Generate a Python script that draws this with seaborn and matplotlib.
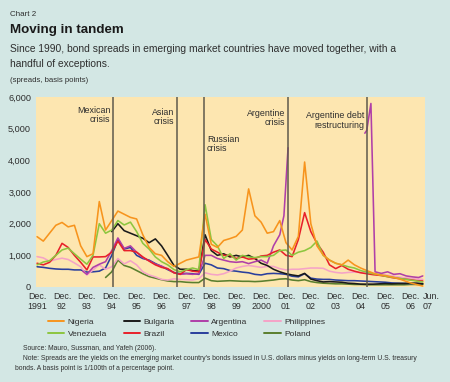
import matplotlib
matplotlib.use("Agg")
import matplotlib.pyplot as plt
import matplotlib.dates as mdates
from matplotlib.lines import Line2D
import numpy as np
import pandas as pd
import seaborn as sns

# ------------------------------------------------------------------
# Data (spreads, basis points), quarterly readings Dec 1991 - Jun 2007
# ------------------------------------------------------------------
quarters = pd.date_range("1991-12-01", "2007-06-01", freq="3MS")
nan = np.nan

nigeria = [1590, 1450, 1700, 1950, 2040, 1900, 1950, 1300,
           960, 1050, 2700, 1800, 2100, 2400, 2300, 2200,
           2150, 1650, 1250, 1050, 1000, 800, 650, 750,
           850, 900, 950, 2300, 1350, 1250, 1470, 1530,
           1600, 1800, 3100, 2250, 2050, 1700, 1750, 2100,
           1400, 1170, 1600, 3950, 2000, 1300, 1010, 850,
           750, 700, 850, 700, 600, 520, 440, 380,
           360, 320, 270, 200, 130, 80, 30]
venezuela = [700, 790, 830, 1000, 1170, 1230, 1050, 880,
             720, 1000, 2000, 1700, 1800, 2100, 1960, 2050,
             1750, 1380, 1200, 950, 800, 700, 550, 480,
             550, 600, 550, 2600, 1500, 1300, 900, 1050,
             850, 1000, 950, 930, 960, 960, 1000, 1150,
             1170, 1000, 1100, 1150, 1250, 1450, 1000, 850,
             750, 700, 640, 600, 520, 470, 420, 390,
             340, 310, 280, 250, 220, 190, 160]
bulgaria = [nan] * 12 + [
            1750, 2000, 1780, 1700, 1620, 1540, 1400, 1520,
            1300, 1000, 680, 560, 560, 520, 500, 1650,
            1150, 1000, 1050, 950, 1000, 950, 1000, 900,
            750, 680, 560, 480, 420, 380, 350, 430,
            250, 200, 160, 170, 160, 150, 120, 110,
            90, 90, 90, 100, 110, 100, 110, 110,
            120, 120, 100]
brazil = [750, 700, 780, 1000, 1380, 1250, 1000, 780,
          540, 950, 950, 960, 1100, 1450, 1150, 1150,
          1100, 950, 820, 700, 620, 580, 450, 400,
          550, 500, 480, 1500, 1200, 1100, 1000, 1000,
          900, 950, 880, 900, 980, 1000, 1100, 1170,
          1000, 960, 1500, 2350, 1750, 1380, 1100, 700,
          580, 680, 560, 500, 450, 420, 390, 370,
          340, 300, 270, 250, 230, 200, 190]
mexico = [640, 620, 590, 570, 560, 560, 540, 540,
          470, 480, 500, 600, 1000, 1500, 1200, 1250,
          1000, 900, 850, 740, 650, 550, 460, 420,
          430, 420, 400, 750, 700, 600, 580, 520,
          500, 470, 450, 400, 380, 420, 430, 420,
          400, 340, 320, 420, 280, 250, 240, 240,
          220, 210, 200, 200, 190, 180, 170, 160,
          150, 130, 120, 115, 110, 110, 110]
philippines = [960, 920, 810, 870, 910, 870, 760, 640,
               380, 540, 700, 560, 640, 900, 730, 830,
               700, 480, 380, 320, 240, 220, 260, 240,
               230, 220, 260, 450, 400, 380, 420, 500,
               600, 650, 680, 650, 620, 650, 650, 580,
               540, 560, 560, 580, 600, 600, 590, 500,
               460, 440, 460, 470, 460, 440, 420, 400,
               380, 350, 320, 290, 270, 250, 240]
poland = [nan] * 11 + [
          300, 480, 850, 680, 620, 520, 420, 330,
          280, 230, 190, 170, 170, 150, 140, 140,
          280, 200, 180, 190, 200, 190, 180, 180,
          170, 180, 200, 220, 250, 260, 220, 200,
          230, 170, 140, 120, 110, 100, 100, 90,
          80, 80, 70, 70, 70, 70, 70, 70,
          70, 80, 80, 80]

# Argentina: own dates, default gap 2002-2005
argentina_dates = ["1993-10", "1993-12", "1994-03", "1994-06", "1994-09", "1994-12",
                   "1995-03", "1995-06", "1995-09", "1995-12", "1996-03", "1996-06",
                   "1996-09", "1996-12", "1997-03", "1997-06", "1997-09", "1997-12",
                   "1998-03", "1998-06", "1998-09", "1998-12", "1999-03", "1999-06",
                   "1999-09", "1999-12", "2000-03", "2000-06", "2000-09", "2000-12",
                   "2001-03", "2001-06", "2001-09", "2001-11", "2002-01",
                   "2005-02", "2005-03", "2005-05", "2005-07", "2005-10", "2006-01",
                   "2006-04", "2006-07", "2006-10", "2007-01", "2007-04", "2007-06"]
argentina = [500, 400, 620, 720, 800, 1150,
             1550, 1220, 1300, 1100, 930, 830,
             720, 660, 570, 450, 400, 420,
             400, 420, 1000, 1000, 900, 850,
             800, 780, 800, 740, 800, 850,
             750, 1300, 1650, 2250, 4400,
             4860, 4950, 5800, 480, 430, 480,
             400, 420, 350, 320, 300, 350]
argentina_part = [1] * 35 + [2] * 12

countries = ["Nigeria", "Venezuela", "Bulgaria", "Brazil",
             "Argentina", "Mexico", "Philippines", "Poland"]
colors = {"Nigeria": "#f7941d", "Venezuela": "#8dc63f", "Bulgaria": "#1a1a1a",
          "Brazil": "#e8202a", "Argentina": "#b03fa8", "Mexico": "#2a3f9d",
          "Philippines": "#f5a3c7", "Poland": "#5a7f2e"}

events = [("1994-12-20", "Mexican\ncrisis", "right", 0.955),
          ("1997-07-20", "Asian\ncrisis", "right", 0.945),
          ("1998-08-17", "Russian\ncrisis", "left", 0.80),
          ("2001-12-28", "Argentine\ncrisis", "right", 0.94),
          ("2005-03-01", "Argentine debt\nrestructuring", "right", 0.925)]

# ------------------------------------------------------------------
# Long-form table
# ------------------------------------------------------------------
frames = []
for name, vals in [("Nigeria", nigeria), ("Venezuela", venezuela),
                   ("Bulgaria", bulgaria), ("Brazil", brazil),
                   ("Mexico", mexico), ("Philippines", philippines),
                   ("Poland", poland)]:
    frames.append(pd.DataFrame({"date": quarters, "spread": vals,
                                "country": name, "seg": name}))
frames.append(pd.DataFrame({"date": pd.to_datetime(argentina_dates), "spread": argentina,
                            "country": "Argentina",
                            "seg": ["Argentina%d" % p for p in argentina_part]}))
df = pd.concat(frames, ignore_index=True).dropna()

# ------------------------------------------------------------------
# Plot
# ------------------------------------------------------------------
sns.set_style("white")
plt.rcParams["font.family"] = ["Liberation Sans", "DejaVu Sans"]

bg = "#d3e7e4"
panel = "#fde6b0"
txt = "#2e2e2e"
fig = plt.figure(figsize=(4.5, 3.82), dpi=100, facecolor=bg)
ax = fig.add_axes([0.08, 0.2487, 0.864, 0.497])
ax.set_facecolor(panel)

draw_order = ["Poland", "Mexico", "Philippines", "Bulgaria", "Argentina",
              "Brazil", "Venezuela", "Nigeria"]
for c in draw_order:
    sub = df[df["country"] == c]
    sns.lineplot(data=sub, x="date", y="spread", units="seg", estimator=None,
                 color=colors[c], linewidth=1.15, sort=False, ax=ax, legend=False)

for d, label, side, yf in events:
    xd = mdates.date2num(pd.Timestamp(d))
    ax.axvline(xd, color="#5e5a4c", linewidth=1.1, zorder=5)
    off = -2 if side == "right" else 2
    ax.annotate(label, xy=(xd, yf), xycoords=ax.get_xaxis_transform(),
                xytext=(off, 0), textcoords="offset points",
                ha=side, va="top", fontsize=6.4, color=txt,
                linespacing=1.05, zorder=6)

ax.set_xlim(pd.Timestamp("1991-11-15"), pd.Timestamp("2007-07-01"))
ax.set_ylim(0, 6000)
for s in ax.spines.values():
    s.set_visible(False)

ax.set_yticks(range(0, 6001, 1000))
ax.set_yticklabels(["{:,}".format(v) for v in range(0, 6001, 1000)])
ax.tick_params(axis="y", direction="out", length=2, width=0.6, pad=1.5,
               labelsize=6.6, colors=txt)

xt = [pd.Timestamp("%d-12-01" % y) for y in range(1991, 2007)] + [pd.Timestamp("2007-06-01")]
xl = ["Dec.\n1991"] + ["Dec.\n%s" % s for s in
                       ["92", "93", "94", "95", "96", "97", "98", "99", "2000",
                        "01", "02", "03", "04", "05", "06"]] + ["Jun.\n07"]
ax.set_xticks(xt)
ax.set_xticklabels(xl, linespacing=1.2)
ax.xaxis.set_minor_locator(mdates.MonthLocator(bymonth=[3, 6, 9, 12]))
ax.tick_params(axis="x", which="major", direction="in", length=3, width=0.6,
               pad=3.5, labelsize=6.4, colors=txt)
ax.tick_params(axis="x", which="minor", direction="in", length=1.5, width=0.6,
               colors="#555555")
ax.get_xticklabels()[-1].set_horizontalalignment("left")
ax.set_xlabel("")
ax.set_ylabel("")

handles = [Line2D([], [], color=colors[c], linewidth=1.4) for c in countries]
fig.legend(handles, countries, ncol=4, loc="upper left",
           bbox_to_anchor=(0.097, 0.178), frameon=False, fontsize=6.0,
           handlelength=2.0, handletextpad=0.4, columnspacing=2.0,
           labelspacing=0.45, borderpad=0, labelcolor=txt)

fig.text(0.022, 1 - 14 / 382, "Chart 2", fontsize=5.8, va="center", color=txt)
fig.text(0.022, 1 - 30 / 382, "Moving in tandem", fontsize=9.6, fontweight="bold",
         va="center", color="#1a1a1a")
fig.text(0.022, 1 - 49 / 382,
         "Since 1990, bond spreads in emerging market countries have moved together, with a",
         fontsize=7.35, va="center", color=txt)
fig.text(0.022, 1 - 64 / 382, "handful of exceptions.", fontsize=7.35, va="center",
         color=txt)
fig.text(0.022, 1 - 80 / 382, "(spreads, basis points)", fontsize=5.6, va="center",
         color=txt)

fig.text(23 / 450, 1 - 348 / 382, "Source: Mauro, Sussman, and Yafeh (2006).",
         fontsize=4.9, va="center", color=txt)
fig.text(23 / 450, 1 - 358 / 382,
         "Note: Spreads are the yields on the emerging market country's bonds issued in "
         "U.S. dollars minus yields on long-term U.S. treasury",
         fontsize=4.85, va="center", color=txt)
fig.text(15 / 450, 1 - 368 / 382, "bonds. A basis point is 1/100th of a percentage point.",
         fontsize=4.85, va="center", color=txt)

fig.savefig("out.png", dpi=100, facecolor=bg)
